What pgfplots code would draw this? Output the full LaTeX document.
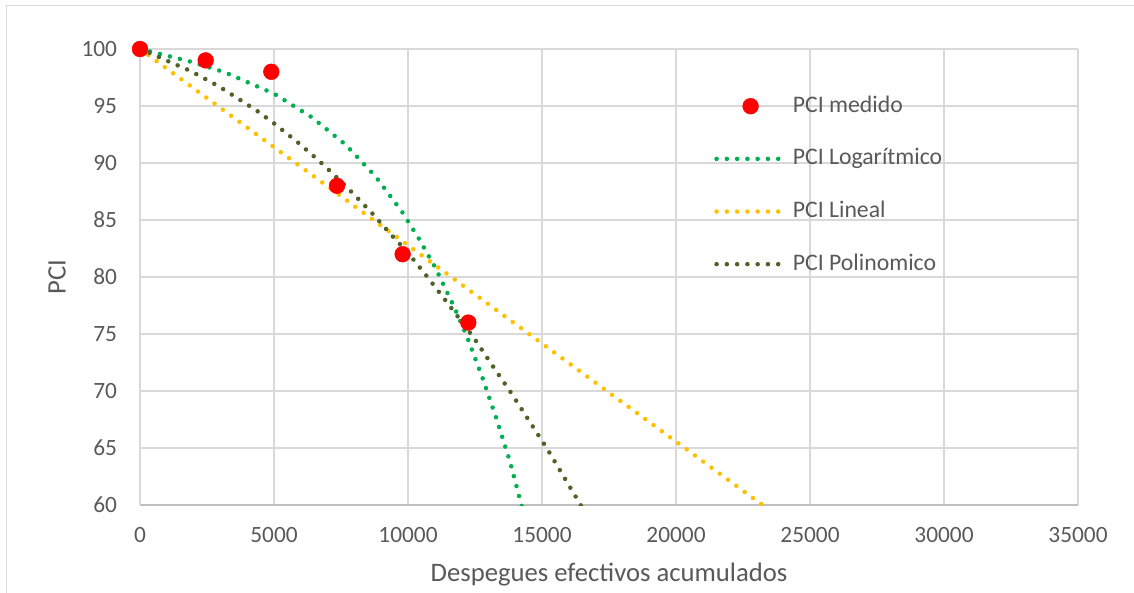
\documentclass[border=0pt]{standalone}
\usepackage{pgfplots}
\pgfplotsset{compat=1.18}
\usepackage{fontspec}
\setmainfont{Carlito}
\usetikzlibrary{calc}
\definecolor{gridc}{HTML}{D9D9D9}
\definecolor{axc}{HTML}{BFBFBF}
\definecolor{txt}{HTML}{595959}
\definecolor{lgreen}{HTML}{00B050}
\definecolor{lyellow}{HTML}{FFC000}
\definecolor{lolive}{HTML}{4F6228}
\pgfplotsset{
  dotleg/.style={legend image code/.code={\draw[##1] (0pt,0pt) -- (48pt,0pt);}},
  markleg/.style={legend image code/.code={\draw[mark repeat=2, mark phase=2, ##1] plot coordinates {(0pt,0pt) (25.5pt,0pt) (51pt,0pt)};}},
  dotline/.style={no markers, line width=3.4pt, line cap=round, dash pattern=on 0pt off 7.7pt, dotleg},
}
\begin{document}
\begin{tikzpicture}
\begin{axis}[name=ax, at={(0,0)}, anchor=south west,
  scale only axis, width=703.5pt, height=342pt,
  xmin=0, xmax=35000, ymin=60, ymax=100,
  xtick={0,5000,...,35000}, ytick={60,65,...,100},
  scaled x ticks=false,
  /pgf/number format/assume math mode=true,
  /pgf/number format/1000 sep={},
  grid=major, major grid style={gridc, line width=0.8pt},
  axis x line*=bottom, axis y line*=left,
  x axis line style={axc, -, line width=0.8pt},
  y axis line style={gridc, -, line width=0.8pt},
  major tick length=0pt,
  tick label style={font=\fontsize{17.5}{20}\selectfont, text=txt},
  xticklabel style={anchor=north, inner sep=0pt, yshift=-16.5pt},
  yticklabel style={anchor=east, inner sep=0pt, xshift=-17pt},
  xlabel={Despegues efectivos acumulados}, ylabel={PCI},
  label style={font=\fontsize{20}{24}\selectfont, text=txt},
  xlabel style={at={(axis description cs:0.5,-0.1535)}, anchor=center},
  ylabel style={at={(axis description cs:-0.0885,0.5)}, anchor=center},
  legend style={at={(axis description cs:0.612,0.9)}, anchor=north west,
    draw=none, fill=none, font=\fontsize{17.8}{21}\selectfont, text=txt,
    row sep=22.5pt, inner sep=0pt,
    nodes={inner sep=0pt, text height=13pt, text depth=4pt},
    /tikz/every odd column/.append style={column sep=7.5pt}},
  legend cell align=left,
]
\addplot[only marks, mark=*, mark size=5.9pt, color=red, mark options={draw=red, fill=red}, markleg]
  coordinates {(0,100) (2450,99) (4900,98) (7350,88) (9800,82) (12250,76)};
\addlegendentry{PCI medido}

\addplot[color=lgreen, dotline]
  coordinates {(0,100) (810,99.53) (1990,98.83) (3160,97.96) (5025,96.05) (6418,94.0)
  (7675,91.6) (8794,88.8) (9776,85.73) (10422,83.3) (11033,80.76) (11728,77.34)
  (12213,74.7) (12787,71.1) (13310,67.5) (13806,63.8) (14216,60.15) (14350,59.0)};
\addlegendentry{PCI Logarítmico}

\addplot[color=lyellow, dotline]
  coordinates {(0,100) (24000,58.67)};
\addlegendentry{PCI Lineal}

\addplot[color=lolive, dotline]
  coordinates {(0,100) (398,99.62) (1144,98.83) (1891,98.07) (2960,96.7) (4340,94.62)
  (5000,93.48) (5945,91.7) (6866,89.8) (7750,87.8) (8608,85.73) (9414,83.6) (9974,82.2)
  (10746,79.94) (11493,77.66) (12474,74.6) (13160,72.2) (13843,69.85) (14515,67.4)
  (15175,65.0) (15797,62.54) (16418,60.1) (16600,59.3)};
\addlegendentry{PCI Polinomico}
\end{axis}
\draw[gridc, line width=0.75pt] ($(ax.south west)+(-99.75pt,-70pt)$) -- ($(ax.south west)+(-99.75pt,374.25pt)$) -- ($(ax.south west)+(750pt,374.25pt)$);
\pgfresetboundingbox
\useasboundingbox ($(ax.south west)+(-105pt,-65.25pt)$) rectangle ($(ax.south west)+(745.5pt,378.75pt)$);
\end{tikzpicture}
\end{document}
